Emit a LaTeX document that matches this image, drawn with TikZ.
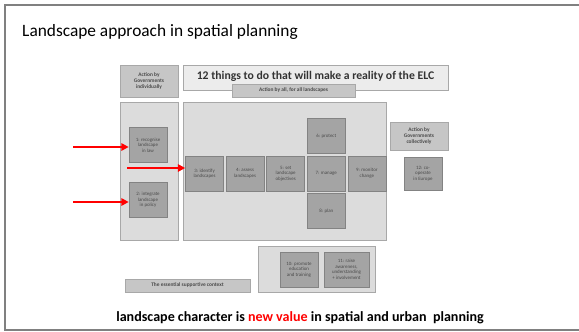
\documentclass[tikz,border=0pt]{standalone}
\usepackage{fontspec}
\setmainfont{Carlito}
\usepackage{tikz}
\usetikzlibrary{arrows.meta,positioning}

\definecolor{lightfill}{HTML}{DCDCDC}
\definecolor{titlefill}{HTML}{ECECEC}
\definecolor{midfill}{HTML}{C6C6C6}
\definecolor{darkfill}{HTML}{A4A4A4}
\definecolor{boxline}{HTML}{A8A8A8}
\definecolor{boxtext}{HTML}{4A4A4A}

\begin{document}
\begin{tikzpicture}[
  x=0.03cm, y=-0.03cm,
  box/.style={draw=boxline, line width=0.5pt, inner sep=0pt, align=center,
    text=boxtext},
  bigbox/.style={box, fill=lightfill},
  headbox/.style={box, fill=midfill, font=\fontsize{4.6}{5.2}\selectfont\bfseries},
  thingbox/.style={box, fill=darkfill, draw=darkfill!80!black,
    minimum width=1.14cm, minimum height=1.05cm,
    font=\fontsize{4.2}{4.8}\selectfont},
  redarrow/.style={-{Triangle[length=2.2mm, width=2.2mm]}, red, line width=1.6pt}
]
\useasboundingbox (0,0) rectangle (579,332);
% slide frame
\draw[gray, line width=0.9pt] (579,5) -- (5,5) -- (5,330) -- (579,330);
\node[anchor=base west, font=\fontsize{14.8}{18}\selectfont, inner sep=0pt] (heading)
  at (22,36) {Landscape approach in spatial planning};

% background panels
\node[bigbox, minimum width=1.74cm, minimum height=4.14cm] (leftcol) at (149,171) {};
\node[bigbox, minimum width=6.09cm, minimum height=4.14cm] (centre) at (284.5,171) {};
\node[bigbox, minimum width=3.51cm, minimum height=1.38cm] (support) at (316.5,269) {};

% headers
\node[headbox, minimum width=1.74cm, minimum height=0.96cm] (govind) at (149,81)
  {Action by\\Governments\\individually};
\node[box, fill=titlefill, minimum width=7.95cm, minimum height=0.75cm, text=black!80,
  font=\fontsize{10}{11}\selectfont\bfseries, text depth=4pt] (things) at (315.5,77.5)
  {12 things to do that will make a reality of the ELC};
\node[headbox, minimum width=3.69cm, minimum height=0.39cm] (actall) at (293.5,90.5)
  {Action by all, for all landscapes};
\node[headbox, minimum width=1.74cm, minimum height=0.84cm] (govcol) at (419,136)
  {Action by\\Governments\\collectively};
\node[headbox, minimum width=3.75cm, minimum height=0.39cm] (essential) at (187.5,285.5)
  {The essential supportive context};

% the twelve things
\node[thingbox] (recognise) at (148,145) {1: recognise\\landscape\\in law};
\node[thingbox] (integrate) at (148,200) {2: integrate\\landscape\\in policy};
\node[thingbox] (identify) at (204.5,173.5) {3: identify\\landscapes};
\node[thingbox, right=0.06cm of identify] (assess) {4: assess\\landscapes};
\node[thingbox, right=0.06cm of assess] (objectives) {5: set\\landscape\\objectives};
\node[thingbox, right=0.06cm of objectives] (manage) {7: manage};
\node[thingbox, right=0.06cm of manage] (monitor) {9: monitor\\change};
\node[thingbox, above=0.06cm of manage] (protect) {6: protect};
\node[thingbox, below=0.06cm of manage] (plan) {8: plan};
\node[thingbox, minimum height=0.99cm] (cooperate) at (423,173.5) {12: co-\\operate\\in Europe};
\node[thingbox] (educate) at (299,269.5) {10: promote\\education\\and training};
\node[thingbox, minimum width=1.35cm] (awareness) at (346.5,269.5)
  {11: raise\\awareness,\\understanding\\+ involvement};

% red arrows
\coordinate (in1) at (73,147);
\coordinate (in2) at (73,202);
\coordinate (in3) at (127,168);
\draw[redarrow] (in1) -- (in1 -| recognise.west);
\draw[redarrow] (in2) -- (in2 -| integrate.west);
\draw[redarrow] (in3) -- (in3 -| identify.west);

\node[font=\fontsize{12}{14}\selectfont\bfseries, inner sep=0pt, anchor=base] (message)
  at (300,321.5) {landscape character is \textcolor{red}{new value} in spatial and urban~ planning};
\end{tikzpicture}
\end{document}
